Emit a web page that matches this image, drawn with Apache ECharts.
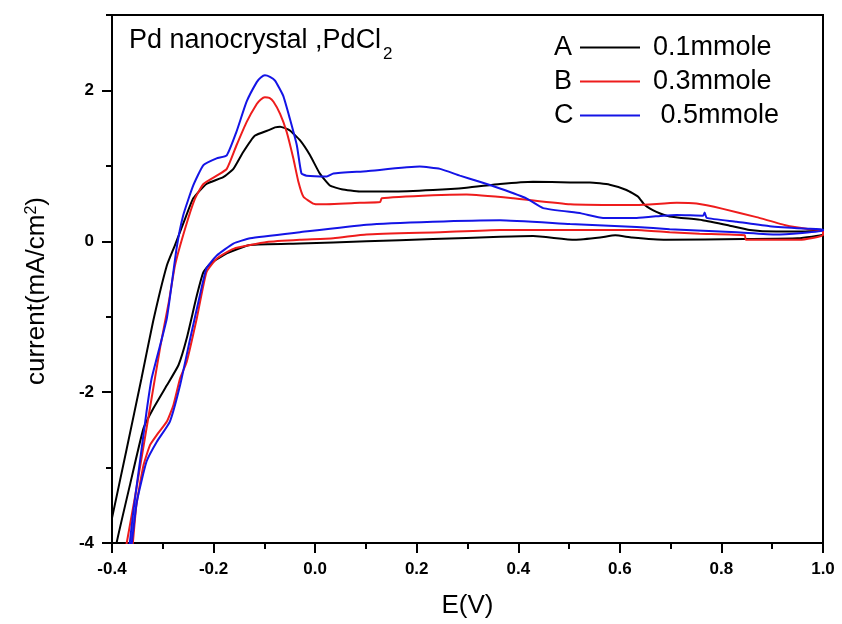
<!DOCTYPE html>
<html><head><meta charset="utf-8">
<script src="https://cdn.jsdelivr.net/npm/echarts@6/dist/echarts.min.js"></script>
<style>html,body{margin:0;padding:0;background:#fff}#c{width:842px;height:624px}</style>
</head><body><div id="c"></div>
<script>
// Curve A (0.1 mmole): anodic branch then cathodic return
const potA = [-0.4, -0.371, -0.342, -0.319, -0.292, -0.276, -0.256, -0.240, -0.214, -0.181, -0.161, -0.142, -0.119, -0.089, -0.079, -0.069, -0.050, -0.030, -0.010, 0.009, 0.029, 0.052, 0.088, 0.150, 0.232, 0.298, 0.364, 0.429, 0.502, 0.541, 0.580, 0.613, 0.636, 0.649, 0.672, 0.698, 0.763, 0.815, 0.856, 0.908, 0.960, 1.0,
  1.0, 0.95, 0.844, 0.691, 0.624, 0.591, 0.561, 0.511, 0.429, 0.364, 0.232, 0.101, -0.030, -0.128, -0.174, -0.207, -0.220, -0.233, -0.253, -0.269, -0.292, -0.319, -0.338, -0.365, -0.391, -0.394];
const curA = [-3.67, -2.75, -1.82, -1.06, -0.32, -0.05, 0.30, 0.57, 0.76, 0.85, 0.96, 1.18, 1.40, 1.48, 1.51, 1.52, 1.47, 1.34, 1.14, 0.90, 0.74, 0.69, 0.66, 0.66, 0.68, 0.71, 0.76, 0.79, 0.78, 0.78, 0.75, 0.68, 0.59, 0.48, 0.39, 0.33, 0.28, 0.21, 0.15, 0.13, 0.13, 0.15,
  0.09, 0.04, 0.03, 0.02, 0.05, 0.08, 0.05, 0.02, 0.07, 0.06, 0.03, 0.00, -0.03, -0.05, -0.16, -0.30, -0.41, -0.72, -1.29, -1.64, -1.91, -2.22, -2.48, -3.24, -4.0, -4.2];

// Curve B (0.3 mmole)
const potB = [-0.373, -0.371, -0.355, -0.340, -0.325, -0.305, -0.288, -0.276, -0.256, -0.237, -0.220, -0.194, -0.174, -0.155, -0.135, -0.115, -0.107, -0.099, -0.090, -0.082, -0.069, -0.056, -0.043, -0.033, -0.023, -0.004, 0.009, 0.088, 0.128, 0.131, 0.232, 0.298, 0.390, 0.502, 0.633, 0.712, 0.751, 0.803, 0.869, 0.928, 0.974, 1.0,
  1.0, 0.954, 0.848, 0.846, 0.757, 0.698, 0.633, 0.502, 0.364, 0.246, 0.101, 0.036, -0.030, -0.095, -0.161, -0.194, -0.214, -0.233, -0.253, -0.266, -0.279, -0.292, -0.312, -0.325, -0.338, -0.352, -0.359, -0.361];
const curB = [-4.14, -4.0, -3.4, -2.8, -2.2, -1.4, -0.8, -0.32, 0.17, 0.56, 0.76, 0.87, 0.96, 1.27, 1.58, 1.82, 1.88, 1.91, 1.90, 1.85, 1.69, 1.45, 1.10, 0.79, 0.59, 0.50, 0.49, 0.51, 0.52, 0.57, 0.61, 0.62, 0.57, 0.49, 0.48, 0.51, 0.50, 0.43, 0.32, 0.21, 0.16, 0.14,
  0.08, 0.02, 0.02, 0.08, 0.10, 0.12, 0.15, 0.15, 0.15, 0.12, 0.09, 0.04, 0.02, -0.01, -0.10, -0.23, -0.41, -1.02, -1.60, -1.82, -2.17, -2.39, -2.57, -2.70, -2.97, -3.50, -4.0, -4.14];

// Curve C (0.5 mmole)
const potC = [-0.367, -0.365, -0.358, -0.345, -0.332, -0.322, -0.292, -0.273, -0.260, -0.240, -0.220, -0.194, -0.174, -0.155, -0.135, -0.115, -0.107, -0.099, -0.089, -0.079, -0.063, -0.050, -0.036, -0.027, -0.017, 0.023, 0.036, 0.101, 0.206, 0.246, 0.285, 0.324, 0.364, 0.416, 0.449, 0.524, 0.567, 0.633, 0.685, 0.712, 0.764, 0.767, 0.771, 0.830, 0.895, 0.961, 1.0,
  1.0, 0.908, 0.830, 0.698, 0.633, 0.502, 0.364, 0.232, 0.101, -0.030, -0.128, -0.161, -0.194, -0.214, -0.227, -0.246, -0.266, -0.286, -0.312, -0.332, -0.351, -0.361, -0.363];
const curC = [-4.14, -4.0, -3.58, -2.92, -2.26, -1.82, -1.02, -0.10, 0.34, 0.74, 1.01, 1.10, 1.14, 1.45, 1.85, 2.11, 2.17, 2.20, 2.18, 2.13, 1.93, 1.63, 1.27, 0.90, 0.87, 0.86, 0.90, 0.93, 0.99, 0.96, 0.87, 0.79, 0.70, 0.57, 0.44, 0.37, 0.31, 0.31, 0.34, 0.35, 0.34, 0.38, 0.31, 0.26, 0.20, 0.17, 0.16,
  0.14, 0.09, 0.12, 0.16, 0.19, 0.23, 0.28, 0.26, 0.22, 0.12, 0.04, -0.03, -0.19, -0.36, -0.72, -1.29, -1.91, -2.39, -2.66, -2.92, -3.45, -4.0, -4.14];

const seriesNames = ['0.1mmole', '0.3mmole', ' 0.5mmole'];
const seriesLetters = ['A', 'B', 'C'];
const seriesColors = ['#000000', '#ee1c1c', '#1414e6'];
const titleMain = 'Pd nanocrystal ,PdCl';
const titleSub = '2';

const FONT = '"Liberation Sans", Arial, sans-serif';
const zip = (p, c) => p.map((e, i) => [e, c[i]]);
const allData = [zip(potA, curA), zip(potB, curB), zip(potC, curC)];

const chart = echarts.init(document.getElementById('c'), null, {renderer: 'canvas'});
chart.setOption({
  animation: false,
  backgroundColor: '#fff',
  legend: {
    left: 580, top: 34, orient: 'vertical', padding: 0,
    itemWidth: 60, itemHeight: 2, itemGap: 7, icon: 'rect',
    data: seriesNames,
    textStyle: {fontSize: 27, fontFamily: FONT, color: '#000', lineHeight: 27, padding: [0, 0, 0, 8]}
  },
  graphic: seriesLetters.map((t, i) => ({
    type: 'text', left: 554, top: 34 + i * 34,
    style: {text: t, fontSize: 27, fontFamily: FONT, fill: '#000', lineHeight: 27}
  })).concat([
    {type: 'text', left: 129, top: 27, style: {text: titleMain, fontSize: 27, fontFamily: FONT, fill: '#000', lineHeight: 27}},
    {type: 'text', left: 383, top: 46, style: {text: titleSub, fontSize: 17, fontFamily: FONT, fill: '#000', lineHeight: 17}}
  ]),
  grid: {left: 112, right: 19, top: 15, bottom: 79, show: true, borderColor: '#000', borderWidth: 2, containLabel: false},
  xAxis: {
    type: 'value', min: -0.4, max: 1.0, interval: 0.2,
    name: 'E(V)', nameLocation: 'middle', nameGap: 50,
    nameTextStyle: {fontSize: 26, fontFamily: FONT, color: '#000'},
    axisLine: {show: true, onZero: false, lineStyle: {color: '#000', width: 2}},
    axisTick: {show: true, length: 10, lineStyle: {color: '#000', width: 2}},
    minorTick: {show: true, splitNumber: 2, length: 6, lineStyle: {color: '#000', width: 2}},
    axisLabel: {margin: 18, fontSize: 17, fontWeight: 'bold', fontFamily: FONT, color: '#000', formatter: v => v.toFixed(1)},
    splitLine: {show: false}, minorSplitLine: {show: false}
  },
  yAxis: [{
    type: 'value', min: -4, max: 3, interval: 2,
    name: 'current(mA/cm{sup|2})', nameLocation: 'middle', nameGap: 62,
    nameTextStyle: {fontSize: 26, fontFamily: FONT, color: '#000', padding: [0, 24, 0, 0],
      rich: {sup: {fontSize: 16, fontFamily: FONT, color: '#000', verticalAlign: 'top', lineHeight: 16}}},
    axisLine: {show: true, onZero: false, lineStyle: {color: '#000', width: 2}},
    axisTick: {show: true, length: 10, lineStyle: {color: '#000', width: 2}},
    axisLabel: {margin: 18, fontSize: 17, fontWeight: 'bold', fontFamily: FONT, color: '#000', showMaxLabel: false,
      formatter: v => (v === 3 ? '' : String(v))},
    splitLine: {show: false}
  }, {
    type: 'value', min: -4, max: 3, interval: 1, position: 'left',
    axisLine: {show: false, onZero: false}, axisLabel: {show: false},
    axisTick: {show: true, length: 6, lineStyle: {color: '#000', width: 2}},
    splitLine: {show: false}
  }],
  series: allData.map((d, i) => ({
    type: 'line', name: seriesNames[i], data: d, yAxisIndex: 0,
    showSymbol: false, symbol: 'none', smooth: 0.15, clip: true,
    color: seriesColors[i],
    lineStyle: {color: seriesColors[i], width: 2}
  }))
});
</script></body></html>
